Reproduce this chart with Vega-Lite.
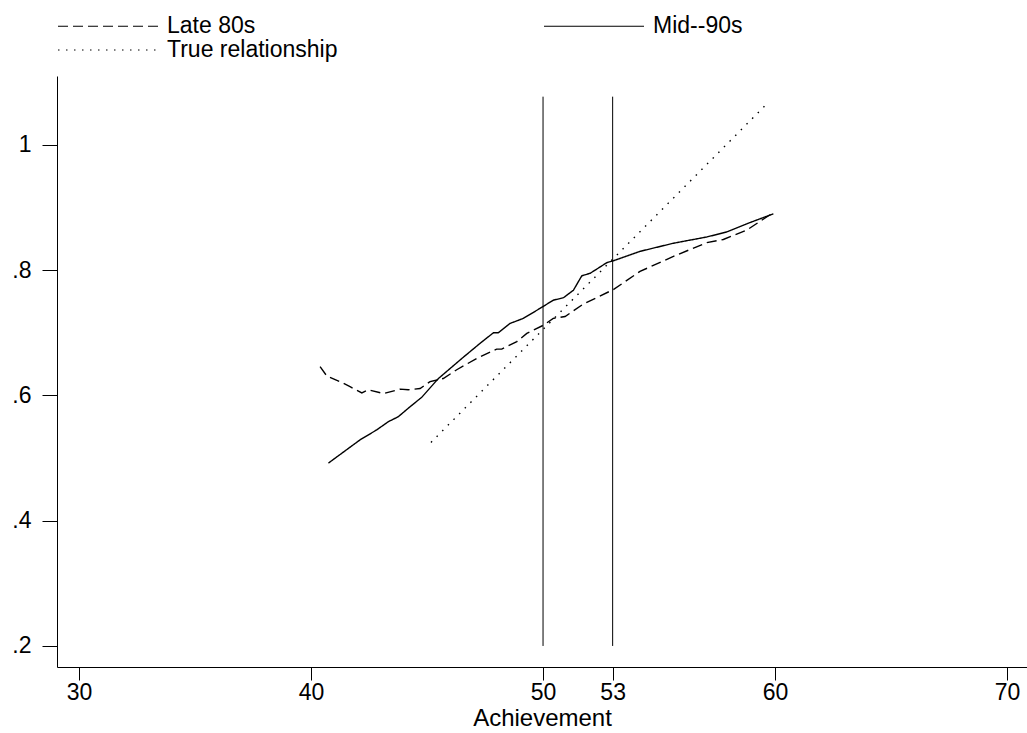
{
  "$schema": "https://vega.github.io/schema/vega-lite/v6.json",
  "width": 970,
  "height": 591,
  "autosize": {"type": "none"},
  "padding": {"left": 57, "top": 76, "right": 0, "bottom": 66},
  "background": "white",
  "config": {
    "view": {"stroke": null},
    "font": "Liberation Sans",
    "axis": {
      "grid": false,
      "domainColor": "black",
      "domainWidth": 1,
      "tickColor": "black",
      "tickWidth": 1,
      "labelFont": "Liberation Sans",
      "labelFontSize": 23,
      "labelColor": "black",
      "titleFont": "Liberation Sans",
      "titleFontSize": 24,
      "titleFontWeight": "normal",
      "titleColor": "black"
    }
  },
  "datasets": {
    "curves": [
      {"series": "Mid--90s", "x": 40.75, "y": 0.492},
      {"series": "Mid--90s", "x": 42.11, "y": 0.529},
      {"series": "Mid--90s", "x": 42.83, "y": 0.545},
      {"series": "Mid--90s", "x": 43.33, "y": 0.558},
      {"series": "Mid--90s", "x": 43.76, "y": 0.566},
      {"series": "Mid--90s", "x": 44.27, "y": 0.582},
      {"series": "Mid--90s", "x": 44.77, "y": 0.597},
      {"series": "Mid--90s", "x": 45.49, "y": 0.627},
      {"series": "Mid--90s", "x": 46.50, "y": 0.659},
      {"series": "Mid--90s", "x": 47.28, "y": 0.683},
      {"series": "Mid--90s", "x": 47.86, "y": 0.700},
      {"series": "Mid--90s", "x": 48.07, "y": 0.700},
      {"series": "Mid--90s", "x": 48.58, "y": 0.715},
      {"series": "Mid--90s", "x": 49.15, "y": 0.723},
      {"series": "Mid--90s", "x": 49.87, "y": 0.739},
      {"series": "Mid--90s", "x": 50.44, "y": 0.752},
      {"series": "Mid--90s", "x": 50.88, "y": 0.756},
      {"series": "Mid--90s", "x": 51.31, "y": 0.768},
      {"series": "Mid--90s", "x": 51.67, "y": 0.791},
      {"series": "Mid--90s", "x": 52.03, "y": 0.795},
      {"series": "Mid--90s", "x": 52.75, "y": 0.812},
      {"series": "Mid--90s", "x": 53.03, "y": 0.815},
      {"series": "Mid--90s", "x": 54.18, "y": 0.830},
      {"series": "Mid--90s", "x": 55.62, "y": 0.843},
      {"series": "Mid--90s", "x": 57.06, "y": 0.853},
      {"series": "Mid--90s", "x": 57.92, "y": 0.861},
      {"series": "Mid--90s", "x": 58.92, "y": 0.876},
      {"series": "Mid--90s", "x": 59.93, "y": 0.890},
      {"series": "Late 80s", "x": 40.39, "y": 0.646},
      {"series": "Late 80s", "x": 40.68, "y": 0.631},
      {"series": "Late 80s", "x": 41.25, "y": 0.622},
      {"series": "Late 80s", "x": 41.68, "y": 0.614},
      {"series": "Late 80s", "x": 42.19, "y": 0.604},
      {"series": "Late 80s", "x": 42.47, "y": 0.609},
      {"series": "Late 80s", "x": 43.12, "y": 0.603},
      {"series": "Late 80s", "x": 43.84, "y": 0.610},
      {"series": "Late 80s", "x": 44.19, "y": 0.609},
      {"series": "Late 80s", "x": 44.70, "y": 0.611},
      {"series": "Late 80s", "x": 45.13, "y": 0.622},
      {"series": "Late 80s", "x": 45.70, "y": 0.627},
      {"series": "Late 80s", "x": 46.28, "y": 0.641},
      {"series": "Late 80s", "x": 47.14, "y": 0.659},
      {"series": "Late 80s", "x": 48.00, "y": 0.674},
      {"series": "Late 80s", "x": 48.22, "y": 0.674},
      {"series": "Late 80s", "x": 48.87, "y": 0.686},
      {"series": "Late 80s", "x": 49.30, "y": 0.699},
      {"series": "Late 80s", "x": 50.01, "y": 0.712},
      {"series": "Late 80s", "x": 50.44, "y": 0.723},
      {"series": "Late 80s", "x": 50.95, "y": 0.726},
      {"series": "Late 80s", "x": 51.74, "y": 0.746},
      {"series": "Late 80s", "x": 53.03, "y": 0.769},
      {"series": "Late 80s", "x": 54.18, "y": 0.798},
      {"series": "Late 80s", "x": 55.62, "y": 0.822},
      {"series": "Late 80s", "x": 57.06, "y": 0.844},
      {"series": "Late 80s", "x": 57.77, "y": 0.849},
      {"series": "Late 80s", "x": 58.78, "y": 0.864},
      {"series": "Late 80s", "x": 59.93, "y": 0.892},
      {"series": "True relationship", "x": 45.17, "y": 0.525},
      {"series": "True relationship", "x": 59.74, "y": 1.069}
    ],
    "cutoffs": [
      {"x": 50, "y0": 0.2, "y1": 1.077},
      {"x": 53, "y0": 0.2, "y1": 1.077}
    ]
  },
  "layer": [
    {
      "data": {"name": "cutoffs"},
      "mark": {"type": "rule", "color": "black", "strokeWidth": 1},
      "encoding": {
        "x": {"field": "x", "type": "quantitative", "scale": {"domain": [29.05, 70.86], "nice": false, "zero": false}},
        "y": {"field": "y0", "type": "quantitative", "scale": {"domain": [0.1664, 1.11], "nice": false, "zero": false}},
        "y2": {"field": "y1"}
      }
    },
    {
      "data": {"name": "curves"},
      "mark": {"type": "line", "color": "black", "strokeWidth": 1.4},
      "encoding": {
        "x": {
          "field": "x", "type": "quantitative",
          "scale": {"domain": [29.05, 70.86], "nice": false, "zero": false},
          "axis": {"values": [30, 40, 50, 53, 60, 70], "tickSize": 13, "labelPadding": 1, "title": "Achievement", "titlePadding": 2, "format": "d"}
        },
        "y": {
          "field": "y", "type": "quantitative",
          "scale": {"domain": [0.1664, 1.11], "nice": false, "zero": false},
          "axis": {"values": [0.2, 0.4, 0.6, 0.8, 1], "tickSize": 15, "labelPadding": 11, "title": null,
                   "labelExpr": "datum.value >= 1 ? '1' : substring(format(datum.value, '.1f'), 1)"}
        },
        "strokeDash": {
          "field": "series", "type": "nominal",
          "scale": {"domain": ["Late 80s", "Mid--90s", "True relationship"], "range": [[10, 5], [1, 0], [1.5, 6.5]]},
          "legend": {
            "orient": "none", "direction": "horizontal", "legendX": 0, "legendY": -61.5, "columns": 2, "columnPadding": 205,
            "rowPadding": 0, "clipHeight": 23, "symbolType": "stroke", "symbolSize": 10000,
            "symbolStrokeWidth": 1.2, "symbolStrokeColor": "black", "labelFont": "Liberation Sans",
            "labelFontSize": 23, "labelColor": "black", "labelOffset": 8, "labelLimit": 400, "title": null, "padding": 0
          }
        }
      }
    }
  ]
}
